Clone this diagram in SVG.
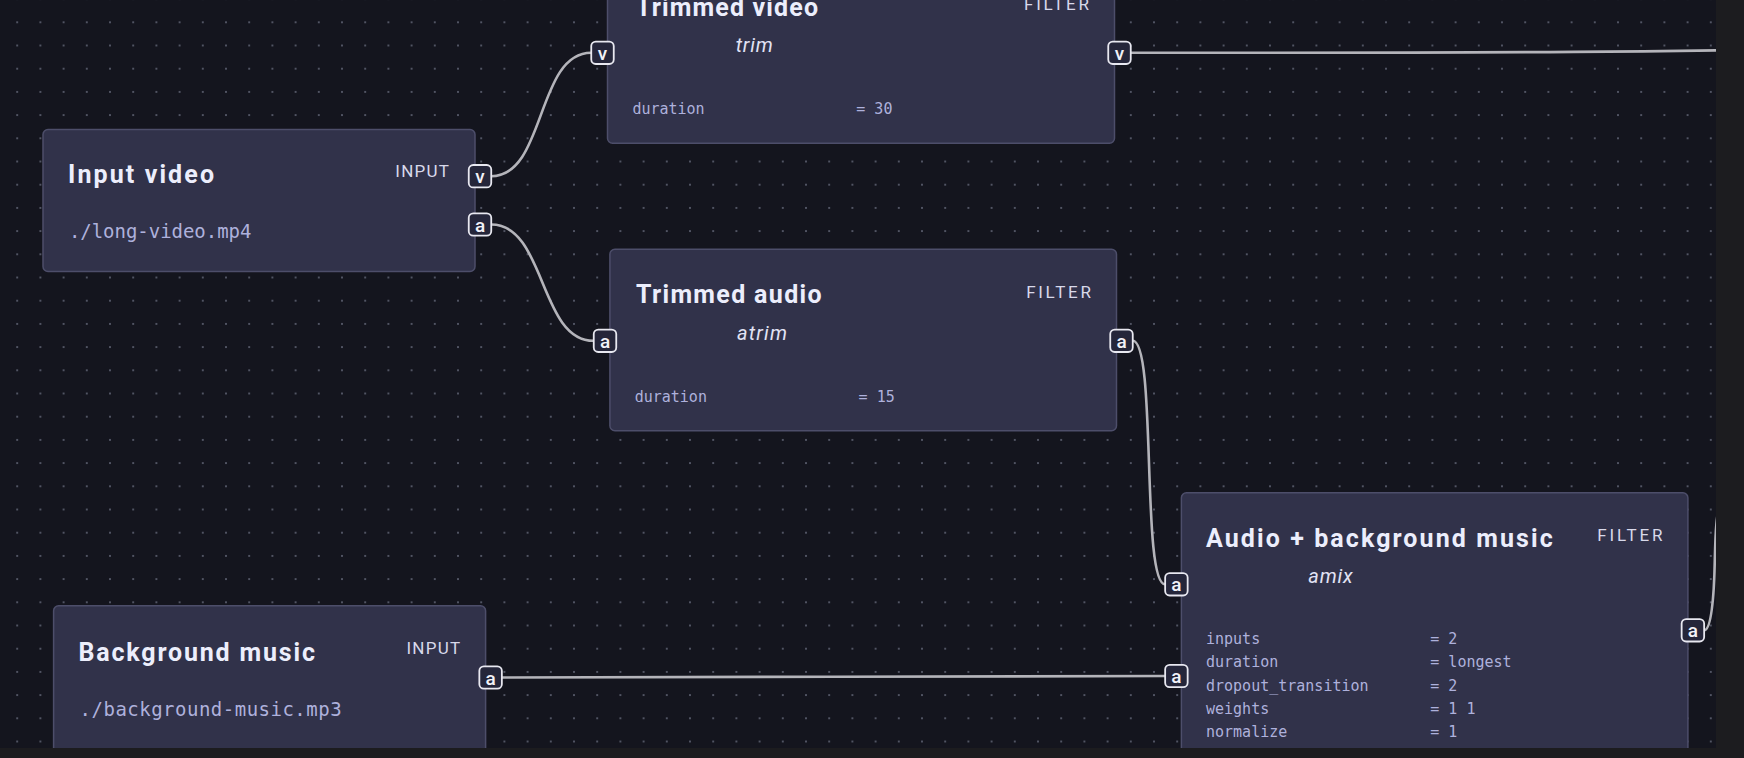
<svg xmlns="http://www.w3.org/2000/svg" width="1744" height="758" viewBox="0 0 1744 758">
<style>
.node rect.body{fill:#31324a;stroke:#4d4e6a;stroke-width:1.5}
.title{font-family:Roboto,"Liberation Sans",sans-serif;font-weight:700;font-size:25px;fill:#eceefc}
.kind{font-family:Roboto,"Liberation Sans",sans-serif;font-weight:400;font-size:17px;fill:#d8d9ea}
.fn{font-family:Roboto,"Liberation Sans",sans-serif;font-style:italic;font-size:20px;fill:#e2e3f5}
.path{font-family:"DejaVu Sans Mono","Liberation Mono",monospace;font-size:19px;fill:#aeb1dc}
.param{font-family:"DejaVu Sans Mono","Liberation Mono",monospace;font-size:15px;fill:#aeb1dc}
.port rect{fill:#25263a;stroke:#e8e8f0;stroke-width:1.8}
.port text{font-family:Roboto,"Liberation Sans",sans-serif;font-weight:500;font-size:19px;fill:#f2f2f8;text-anchor:middle}
.edge{fill:none;stroke:#b4b4ba;stroke-width:2.6}
</style>
<defs>
<pattern id="dots" x="5.6" y="10.7" width="23.2" height="23.2" patternUnits="userSpaceOnUse">
<circle cx="11.6" cy="11.6" r="0.9" fill="#6c7082"/>
</pattern>
<clipPath id="canvas"><rect x="0" y="0" width="1716" height="748"/></clipPath>
</defs>
<rect x="0" y="0" width="1744" height="758" fill="#14151e"/>
<rect x="0" y="0" width="1716" height="748" fill="url(#dots)"/>

<g id="connectors" clip-path="url(#canvas)">
<path class="edge" d="M491.2,176.2 C546,176.2 536,52.8 591.2,52.8"/>
<path class="edge" d="M491.2,224.5 C546,224.5 539,340.8 593.7,340.8"/>
<path class="edge" d="M1132.7,340.8 C1157,340.8 1141,584.3 1165.1,584.3"/>
<path class="edge" d="M501.8,677.5 C833,677.5 833,676 1165.1,676"/>
<path class="edge" d="M1130.7,52.8 C1560,52.8 1660,51.5 1800,49"/>
<path class="edge" d="M1704.2,630.3 C1711,630.3 1714,600 1714.8,560 C1715.5,530 1716,515 1722,495"/>
</g>

<g id="node-input-video" class="node">
<rect class="body" x="43" y="129.5" width="432" height="142" rx="5"/>
<text class="title" x="68" y="183.3" textLength="146" lengthAdjust="spacing">Input video</text>
<text class="kind" x="395.3" y="176.7" textLength="53.7" lengthAdjust="spacing">INPUT</text>
<text class="path" x="68.9" y="238.3" textLength="182.5" lengthAdjust="spacing">./long-video.mp4</text>
<g class="port"><rect x="468.75" y="165" width="22.5" height="22.4" rx="4.5"/><text x="480" y="183.2">v</text></g>
<g class="port"><rect x="468.75" y="213.3" width="22.5" height="22.4" rx="4.5"/><text x="480" y="231.5">a</text></g>
</g>

<g id="node-trimmed-video" class="node">
<rect class="body" x="607.5" y="-38" width="507" height="181.3" rx="5"/>
<text class="title" x="636" y="15.7" textLength="182" lengthAdjust="spacing">Trimmed video</text>
<text class="kind" x="1024" y="10.4" textLength="65" lengthAdjust="spacing">FILTER</text>
<text class="fn" x="735.7" y="52.3" textLength="37" lengthAdjust="spacing">trim</text>
<text class="param" x="632.4" y="114.3">duration</text>
<text class="param" x="856.3" y="114.3">= 30</text>
<g class="port"><rect x="591.25" y="41.6" width="22.5" height="22.4" rx="4.5"/><text x="602.5" y="59.8">v</text></g>
<g class="port"><rect x="1108.25" y="41.6" width="22.5" height="22.4" rx="4.5"/><text x="1119.5" y="59.8">v</text></g>
</g>

<g id="node-trimmed-audio" class="node">
<rect class="body" x="609.9" y="249.3" width="506.6" height="181.4" rx="5"/>
<text class="title" x="636" y="303.3" textLength="185.6" lengthAdjust="spacing">Trimmed audio</text>
<text class="kind" x="1026.2" y="297.7" textLength="64.7" lengthAdjust="spacing">FILTER</text>
<text class="fn" x="736.9" y="340" textLength="50" lengthAdjust="spacing">atrim</text>
<text class="param" x="634.7" y="401.7">duration</text>
<text class="param" x="858.6" y="401.7">= 15</text>
<g class="port"><rect x="593.75" y="329.6" width="22.5" height="22.4" rx="4.5"/><text x="605" y="347.8">a</text></g>
<g class="port"><rect x="1110.25" y="329.6" width="22.5" height="22.4" rx="4.5"/><text x="1121.5" y="347.8">a</text></g>
</g>

<g id="node-background-music" class="node">
<rect class="body" x="53.6" y="605.7" width="432" height="170" rx="5"/>
<text class="title" x="78.5" y="660.7" textLength="236.5" lengthAdjust="spacing">Background music</text>
<text class="kind" x="406.4" y="654" textLength="53.7" lengthAdjust="spacing">INPUT</text>
<text class="path" x="79.6" y="716" textLength="262" lengthAdjust="spacing">./background-music.mp3</text>
<g class="port"><rect x="479.35" y="666.3" width="22.5" height="22.4" rx="4.5"/><text x="490.6" y="684.5">a</text></g>
</g>

<g id="node-amix" class="node">
<rect class="body" x="1181.4" y="492.7" width="506.5" height="300" rx="5"/>
<text class="title" x="1206" y="546.7" textLength="346.7" lengthAdjust="spacing">Audio + background music</text>
<text class="kind" x="1597.3" y="540.7" textLength="65.2" lengthAdjust="spacing">FILTER</text>
<text class="fn" x="1308.3" y="583.3" textLength="44.4" lengthAdjust="spacing">amix</text>
<text class="param" x="1206" y="644">inputs</text>
<text class="param" x="1430.3" y="644">= 2</text>
<text class="param" x="1206" y="667.3">duration</text>
<text class="param" x="1430.3" y="667.3">= longest</text>
<text class="param" x="1206" y="690.6">dropout_transition</text>
<text class="param" x="1430.3" y="690.6">= 2</text>
<text class="param" x="1206" y="713.9">weights</text>
<text class="param" x="1430.3" y="713.9">= 1 1</text>
<text class="param" x="1206" y="737.2">normalize</text>
<text class="param" x="1430.3" y="737.2">= 1</text>
<g class="port"><rect x="1165.15" y="573.1" width="22.5" height="22.4" rx="4.5"/><text x="1176.4" y="591.3">a</text></g>
<g class="port"><rect x="1165.15" y="664.8" width="22.5" height="22.4" rx="4.5"/><text x="1176.4" y="683">a</text></g>
<g class="port"><rect x="1681.65" y="619.1" width="22.5" height="22.4" rx="4.5"/><text x="1692.9" y="637.3">a</text></g>
</g>

<rect x="1716" y="0" width="28" height="758" fill="#1c1c1f"/>
<rect x="0" y="748" width="1744" height="10" fill="#1c1c1f"/>
</svg>
